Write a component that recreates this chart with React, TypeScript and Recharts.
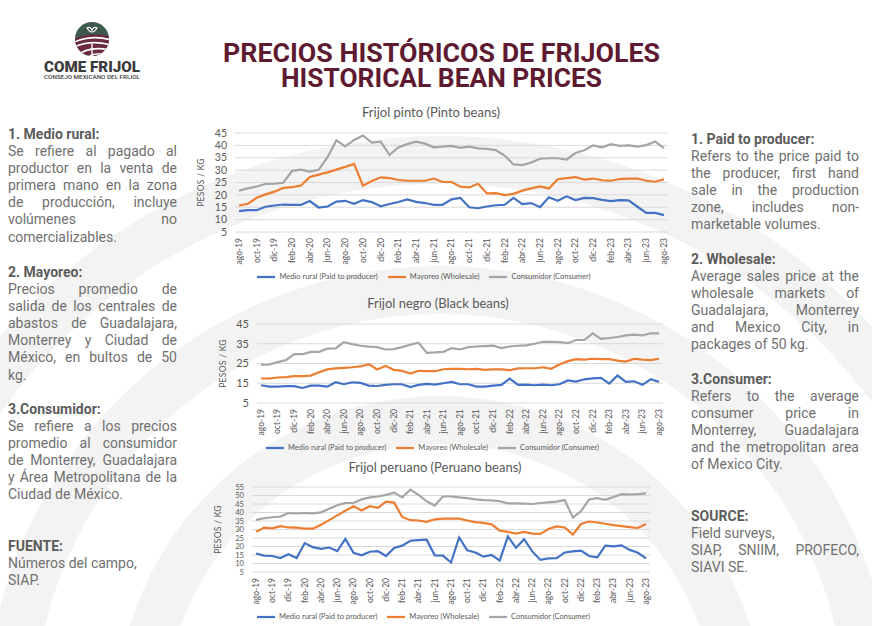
import React from "react";
import { LineChart, Line, XAxis, YAxis, CartesianGrid, Legend } from "recharts";

// months shown on the x axis, ago-19 .. ago-23
const months = [
  "ago-19", "sep-19", "oct-19", "nov-19", "dic-19",
  "ene-20", "feb-20", "mar-20", "abr-20", "may-20", "jun-20", "jul-20", "ago-20", "sep-20", "oct-20", "nov-20", "dic-20",
  "ene-21", "feb-21", "mar-21", "abr-21", "may-21", "jun-21", "jul-21", "ago-21", "sep-21", "oct-21", "nov-21", "dic-21",
  "ene-22", "feb-22", "mar-22", "abr-22", "may-22", "jun-22", "jul-22", "ago-22", "sep-22", "oct-22", "nov-22", "dic-22",
  "ene-23", "feb-23", "mar-23", "abr-23", "may-23", "jun-23", "jul-23", "ago-23",
];

const pintoRural = [13.4, 13.8, 13.8, 15.2, 15.7, 16.1, 16.0, 16.0, 17.5, 14.9, 15.3, 17.3, 17.6, 16.4, 17.9, 17.1, 15.4, 16.3, 17.1, 18.2, 17.2, 16.7, 16.0, 16.0, 18.2, 18.8, 15.0, 14.6, 15.3, 15.8, 16.0, 18.8, 16.3, 16.7, 15.0, 19.0, 17.6, 19.4, 17.9, 18.8, 18.7, 18.0, 17.5, 17.9, 17.8, 15.2, 12.7, 12.7, 11.8];
const pintoWholesale = [15.7, 16.4, 18.8, 20.2, 21.3, 22.8, 23.1, 23.8, 27.2, 28.2, 29.1, 30.2, 31.3, 32.5, 23.7, 25.6, 27.1, 26.8, 26.0, 25.7, 25.7, 25.7, 26.6, 25.2, 25.2, 23.3, 23.0, 24.5, 20.6, 20.7, 19.9, 20.4, 21.7, 22.6, 23.4, 22.6, 26.3, 26.8, 27.2, 26.2, 26.6, 25.9, 25.7, 26.4, 26.6, 26.6, 25.7, 25.3, 26.3];
const pintoConsumer = [21.7, 22.6, 23.4, 24.4, 24.5, 24.9, 29.7, 30.2, 29.4, 30.1, 35.2, 42.0, 39.6, 42.2, 44.0, 41.1, 41.5, 36.2, 39.2, 40.5, 41.5, 40.7, 39.2, 39.5, 39.8, 39.0, 39.5, 38.8, 38.6, 38.1, 35.9, 32.3, 32.0, 33.1, 34.6, 34.8, 34.8, 34.3, 36.9, 38.0, 40.0, 39.2, 40.5, 39.8, 40.0, 39.5, 40.1, 41.6, 38.9];

const negroRural = [14.0, 13.3, 13.3, 13.5, 13.5, 12.6, 13.8, 13.8, 13.3, 15.5, 14.5, 15.5, 15.2, 13.8, 13.6, 14.2, 14.5, 14.5, 13.1, 14.2, 14.7, 14.3, 15.0, 15.7, 14.5, 14.5, 13.3, 13.3, 13.8, 14.2, 17.4, 14.2, 14.3, 14.0, 14.3, 14.0, 14.5, 16.4, 15.8, 17.0, 17.5, 17.7, 14.8, 18.9, 15.7, 16.0, 14.2, 17.0, 15.7];
const negroWholesale = [17.4, 17.4, 17.9, 18.1, 18.6, 18.6, 18.9, 20.6, 22.0, 22.5, 22.8, 23.1, 23.5, 24.7, 22.0, 23.8, 21.8, 21.3, 19.9, 21.3, 21.1, 21.1, 22.1, 22.3, 22.3, 22.1, 22.3, 21.8, 22.1, 22.0, 21.6, 22.5, 22.6, 22.6, 23.1, 22.3, 24.5, 26.2, 27.2, 27.0, 27.4, 27.2, 27.2, 26.5, 26.0, 27.4, 27.0, 26.7, 27.4];
const negroConsumer = [24.3, 24.5, 25.7, 26.7, 29.7, 29.7, 30.9, 30.9, 32.5, 32.6, 35.8, 34.8, 34.0, 33.5, 33.3, 32.1, 32.3, 33.3, 34.5, 35.5, 30.4, 30.6, 30.9, 32.8, 32.1, 33.3, 33.6, 33.8, 34.0, 32.8, 33.6, 34.0, 34.2, 35.0, 36.0, 36.0, 35.8, 35.3, 36.9, 36.9, 40.3, 37.5, 37.9, 38.4, 39.2, 39.6, 39.2, 40.3, 40.3];

const peruanoRural = [15.9, 14.6, 14.4, 13.2, 15.5, 13.2, 22.0, 19.6, 18.6, 19.4, 17.3, 24.5, 16.3, 14.8, 16.9, 17.3, 14.4, 19.2, 20.5, 23.4, 23.8, 24.0, 14.8, 14.6, 10.6, 25.3, 17.8, 16.5, 14.0, 15.0, 11.7, 25.9, 19.2, 24.3, 17.1, 12.1, 13.0, 13.2, 16.5, 17.1, 17.6, 14.4, 13.6, 20.5, 20.1, 20.7, 18.0, 16.3, 13.0];
const peruanoWholesale = [28.6, 31.1, 30.7, 32.0, 31.2, 31.1, 30.5, 30.5, 32.8, 35.5, 38.3, 41.0, 43.7, 41.2, 43.7, 42.7, 46.4, 45.8, 37.4, 35.5, 35.3, 34.5, 36.0, 36.4, 36.4, 36.4, 35.3, 34.3, 33.9, 33.0, 29.3, 28.6, 27.6, 28.6, 27.6, 27.4, 30.3, 31.8, 31.2, 27.0, 33.2, 34.7, 34.1, 33.4, 32.6, 32.0, 31.4, 30.9, 33.2];
const peruanoConsumer = [35.7, 36.6, 37.2, 37.6, 39.7, 39.5, 39.7, 39.5, 40.1, 42.2, 44.3, 45.6, 45.6, 47.7, 48.9, 49.4, 50.4, 51.7, 48.9, 53.5, 50.4, 46.6, 44.1, 49.4, 49.4, 48.9, 48.5, 47.7, 47.3, 47.1, 46.6, 45.4, 45.4, 45.2, 45.0, 45.6, 46.0, 46.4, 47.3, 37.0, 40.8, 47.7, 48.5, 47.5, 49.1, 50.8, 50.6, 50.8, 51.2];

const ticksBy5 = [5, 10, 15, 20, 25, 30, 35, 40, 45];
const ticksBy10 = [5, 15, 25, 35, 45];
const ticksPeruano = [5, 10, 15, 20, 25, 30, 35, 40, 45, 50, 55];

const seriesOrder = ["rural", "wholesale", "consumer"];

// "left" lists the lines that end with a hard break (not stretched)
const leftNotes = [
  { top: 126, title: "1. Medio rural:", lines: ["Se refiere al pagado al", "productor en la venta de", "primera mano en la zona", "de producción, incluye", "volúmenes no", "comercializables."], left: [5] },
  { top: 264, title: "2. Mayoreo:", lines: ["Precios promedio de", "salida de los centrales de", "abastos de Guadalajara,", "Monterrey y Ciudad de", "México, en bultos de 50", "kg."], left: [5] },
  { top: 401, title: "3.Consumidor:", lines: ["Se refiere a los precios", "promedio al consumidor", "de Monterrey, Guadalajara", "y Área Metropolitana de la", "Ciudad de México."], left: [4] },
  { top: 538, title: "FUENTE:", lines: ["Números del campo,", "SIAP."], left: [0, 1] },
];

const rightNotes = [
  { top: 131, title: "1. Paid to producer:", lines: ["Refers to the price paid to", "the producer, first hand", "sale in the production", "zone, includes non-", "marketable volumes."], left: [4] },
  { top: 251, title: "2. Wholesale:", lines: ["Average sales price at the", "wholesale markets of", "Guadalajara, Monterrey", "and Mexico City, in", "packages of 50 kg."], left: [4] },
  { top: 371, title: "3.Consumer:", lines: ["Refers to the average", "consumer price in", "Monterrey, Guadalajara", "and the metropolitan area", "of Mexico City."], left: [4] },
  { top: 508, title: "SOURCE:", lines: ["Field surveys,", "SIAP, SNIIM, PROFECO,", "SIAVI SE."], left: [0, 2] },
];

const BLUE = "#4472c4";
const ORANGE = "#ed7d31";
const GRAY = "#a5a5a5";
const TEXT = "#595959";

function buildRows(rural: number[], wholesale: number[], consumer: number[]) {
  return months.map((m, i) => ({ month: m, rural: rural[i], wholesale: wholesale[i], consumer: consumer[i] }));
}

function MonthTick(props: any) {
  const { x, y, payload } = props;
  return (
    <text x={x} y={y} transform={`rotate(-90 ${x} ${y})`} textAnchor="end" dy="0.34em" fontSize={8.5} fill={TEXT}>
      {payload.value}
    </text>
  );
}

interface PriceChartProps {
  title: string;
  rows: Array<Record<string, unknown>>;
  ticks: number[];
  box: { left: number; top: number; width: number; height: number };
  titleTop: number;
  titleCenter: number;
  tickFont: number;
}

function PriceChart({ title, rows, ticks, box, titleTop, titleCenter, tickFont }: PriceChartProps) {
  return (
    <>
      <div
        style={{
          position: "absolute",
          left: titleCenter - 150,
          width: 300,
          top: titleTop,
          textAlign: "center",
          fontFamily: "Lato",
          fontSize: 13,
          color: TEXT,
        }}
      >
        {title}
      </div>
      <div style={{ position: "absolute", left: box.left, top: box.top }}>
        <LineChart
          width={box.width}
          height={box.height}
          data={rows}
          margin={{ top: 13, right: 12, bottom: 4, left: 0 }}
          style={{ fontFamily: "Lato" }}
        >
          <CartesianGrid vertical={false} stroke="#d9d9d9" />
          <XAxis
            dataKey="month"
            interval={1}
            tick={<MonthTick />}
            tickLine={false}
            axisLine={false}
            tickSize={4}
            height={36}
            padding={{ left: 4, right: 4 }}
          />
          <YAxis
            domain={[ticks[0], ticks[ticks.length - 1]]}
            ticks={ticks}
            interval={0}
            width={45}
            tickLine={false}
            axisLine={false}
            tick={{ fontSize: tickFont, fill: TEXT }}
            label={{
              value: "PESOS / KG",
              angle: -90,
              position: "insideLeft",
              offset: 11,
              style: { textAnchor: "middle", fontSize: 8.5, fill: TEXT, letterSpacing: 0.3 },
            }}
          />
          <Legend
            verticalAlign="bottom"
            align="center"
            height={14}
            iconType="plainline"
            iconSize={18}
            itemSorter={(item: any) => seriesOrder.indexOf(String(item.dataKey))}
            wrapperStyle={{ fontSize: 7.5, lineHeight: "14px" }}
            formatter={(value) => <span style={{ color: TEXT }}>{value}</span>}
          />
          <Line type="linear" dataKey="rural" name="Medio rural (Paid to producer)" stroke={BLUE} strokeWidth={2.2} dot={false} isAnimationActive={false} />
          <Line type="linear" dataKey="wholesale" name="Mayoreo (Wholesale)" stroke={ORANGE} strokeWidth={2.2} dot={false} isAnimationActive={false} />
          <Line type="linear" dataKey="consumer" name="Consumidor (Consumer)" stroke={GRAY} strokeWidth={2.2} dot={false} isAnimationActive={false} />
        </LineChart>
      </div>
    </>
  );
}

function Notes({ notes, left, width }: { notes: typeof leftNotes; left: number; width: number }) {
  return (
    <>
      {notes.map((n) => (
        <div
          key={n.title}
          style={{ position: "absolute", left, top: n.top, width, fontFamily: "Roboto", fontSize: 14, lineHeight: "17.1px" }}
        >
          <div style={{ fontWeight: 700, color: "#5c5c5c" }}>{n.title}</div>
          {n.lines.map((line, i) => (
            <div
              key={i}
              style={{
                color: "#707070",
                whiteSpace: "nowrap",
                textAlign: "justify",
                textAlignLast: n.left.includes(i) ? "left" : "justify",
              }}
            >
              {line}
            </div>
          ))}
        </div>
      ))}
    </>
  );
}

function Logo() {
  return (
    <svg style={{ position: "absolute", left: 30, top: 14 }} width={124} height={70} viewBox="0 0 124 70">
      <defs>
        <clipPath id="logoClip">
          <circle cx={62} cy={25} r={17} />
        </clipPath>
      </defs>
      <g clipPath="url(#logoClip)">
        <rect x={40} y={5} width={44} height={40} fill="#3e5a4d" />
        <path d="M40 27 Q62 15 84 24 V45 H40 Z" fill="#6b2a3f" />
        <path d="M40 30 Q62 19 84 27" stroke="#fff" strokeWidth={1.6} fill="none" />
        <path d="M40 35 Q60 24 84 32" stroke="#fff" strokeWidth={1.6} fill="none" />
        <path d="M44 44 Q58 30 84 37" stroke="#fff" strokeWidth={1.6} fill="none" />
        <path d="M54 46 Q64 36 84 42" stroke="#fff" strokeWidth={1.6} fill="none" />
        <path d="M62 30 L62 46" stroke="#fff" strokeWidth={1.4} />
      </g>
      <path d="M57 14 Q62 22 67 14 Q64 12 62 16 Q60 12 57 14 Z" fill="none" stroke="#fff" strokeWidth={1.2} />
      <text x={14} y={58} fontFamily="Roboto" fontWeight={900} fontSize={14} fill="#3b3b3b" textLength={96} lengthAdjust="spacingAndGlyphs">
        COME FRIJOL
      </text>
      <text x={14} y={64.5} fontFamily="Roboto" fontWeight={500} fontSize={5.2} fill="#3b3b3b" textLength={96} lengthAdjust="spacingAndGlyphs">
        CONSEJO MEXICANO DEL FRIJOL
      </text>
    </svg>
  );
}

function Backdrop() {
  const radii = [300, 430, 560];
  return (
    <svg style={{ position: "absolute", left: 0, top: 0 }} width={872} height={626}>
      {radii.map((r) => (
        <circle key={r} cx={440} cy={720} r={r} fill="none" stroke="#f3f3f3" strokeWidth={48} />
      ))}
    </svg>
  );
}

export default function App() {
  return (
    <div style={{ position: "absolute", left: 0, top: 0, width: 872, height: 626, overflow: "hidden", background: "#fff" }}>
      <Backdrop />
      <Logo />
      <svg style={{ position: "absolute", left: 0, top: 0 }} width={872} height={100}>
        <text x={223} y={62} fontFamily="Roboto" fontWeight={700} fontSize={26} fill="#5e1a30" textLength={437} lengthAdjust="spacingAndGlyphs">
          PRECIOS HISTÓRICOS DE FRIJOLES
        </text>
        <text x={281} y={87} fontFamily="Roboto" fontWeight={700} fontSize={26} fill="#5e1a30" textLength={321} lengthAdjust="spacingAndGlyphs">
          HISTORICAL BEAN PRICES
        </text>
      </svg>
      <Notes notes={leftNotes} left={8} width={169} />
      <Notes notes={rightNotes} left={691} width={168} />
      <PriceChart
        title="Frijol pinto (Pinto beans)"
        rows={buildRows(pintoRural, pintoWholesale, pintoConsumer)}
        ticks={ticksBy5}
        box={{ left: 190, top: 120, width: 490, height: 166 }}
        titleTop={104}
        titleCenter={431}
        tickFont={10.5}
      />
      <PriceChart
        title="Frijol negro (Black beans)"
        rows={buildRows(negroRural, negroWholesale, negroConsumer)}
        ticks={ticksBy10}
        box={{ left: 212, top: 311, width: 463, height: 146 }}
        titleTop={295}
        titleCenter={438}
        tickFont={11}
      />
      <PriceChart
        title="Frijol peruano (Peruano beans)"
        rows={buildRows(peruanoRural, peruanoWholesale, peruanoConsumer)}
        ticks={ticksPeruano}
        box={{ left: 207, top: 474, width: 455, height: 152 }}
        titleTop={459}
        titleCenter={435}
        tickFont={7.6}
      />
    </div>
  );
}
